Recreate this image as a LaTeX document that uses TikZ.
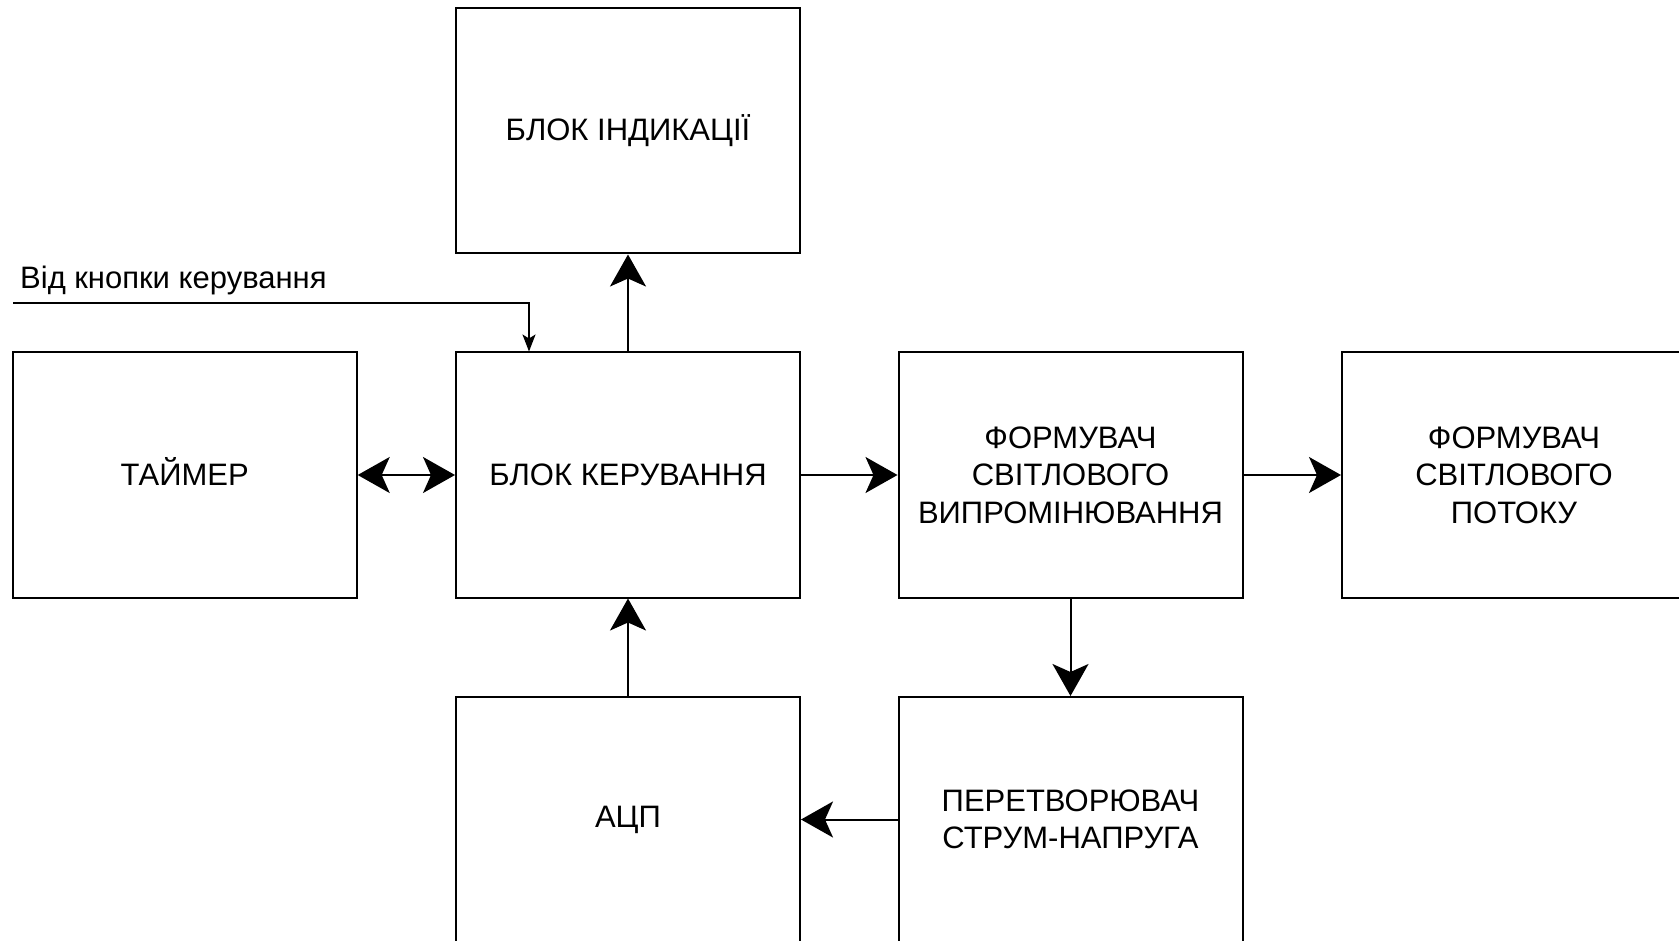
\documentclass[tikz,border=0pt]{standalone}
\usepackage{fontspec}
\setmainfont{Liberation Sans}
\usetikzlibrary{arrows.meta}
\begin{document}
\begin{tikzpicture}[x=1pt,y=-1pt,
  blk/.style={draw, line width=2pt, minimum width=344pt, minimum height=245pt, inner sep=0pt, align=center, font=\fontsize{31}{37.5}\selectfont},
  conn/.style={line width=2pt},
  big/.style={-{Stealth[length=32pt,width=36pt,inset=8pt]}},
  bigboth/.style={{Stealth[length=32pt,width=36pt,inset=8pt]}-{Stealth[length=32pt,width=36pt,inset=8pt]}},
  small/.style={-{Stealth[length=17pt,width=13pt,inset=4pt]}},
  lbl/.style={font=\fontsize{31}{37.5}\selectfont, inner sep=0pt}
]
\clip (0,0) rectangle (1679,941);
\fill[white] (0,0) rectangle (1679,941);
\node[blk] (ind) at (628,131) {БЛОК ІНДИКАЦІЇ};
\node[blk] (tmr) at (184.7,475) {\smash{ТАЙМЕР}\vphantom{ТАМЕР}};
\node[blk] (ctl) at (628,475) {БЛОК КЕРУВАННЯ};
\node[blk] (fv) at (1070.5,475) {ФОРМУВАЧ\\СВІТЛОВОГО\\ВИПРОМІНЮВАННЯ};
\node[blk] (fp) at (1514,475) {ФОРМУВАЧ\\СВІТЛОВОГО\\ПОТОКУ};
\node[blk] (adc) at (628,819.5) {АЦП};
\node[blk] (pt) at (1070.5,819.5) {ПЕРЕТВОРЮВАЧ\\СТРУМ-НАПРУГА};
\node[lbl, anchor=base west] (src_lbl) at (20,289) {Від кнопки керування};
\coordinate (src) at (13,303);
\draw[conn,small] (src) -| ([xshift=-99pt]ctl.north);
\draw[conn,big] (ctl.north) -- (ind.south);
\draw[conn,bigboth] (tmr.east) -- (ctl.west);
\draw[conn,big] (ctl.east) -- (fv.west);
\draw[conn,big] (fv.east) -- (fp.west);
\draw[conn,big] (fv.south) -- (pt.north);
\draw[conn,big] (pt.west) -- (adc.east);
\draw[conn,big] (adc.north) -- (ctl.south);
\end{tikzpicture}
\end{document}
